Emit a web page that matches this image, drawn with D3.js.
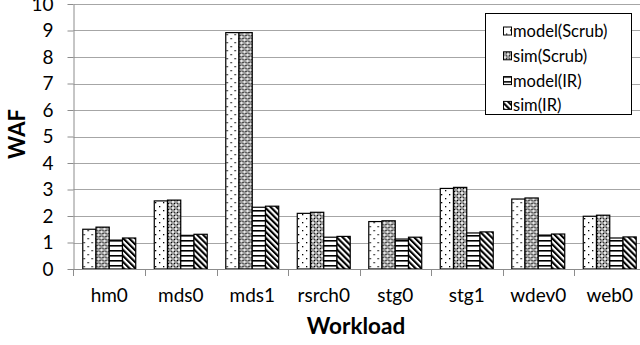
<!DOCTYPE html>
<html>
<head>
<meta charset="utf-8">
<script src="https://cdn.jsdelivr.net/npm/d3@7"></script>
<style>
  html, body { margin: 0; padding: 0; background: #fff; }
  svg { display: block; font-family: Lato, "Open Sans", sans-serif; }
</style>
</head>
<body>
<svg id="chart" width="640" height="345"></svg>
<script>
const categories = ["hm0", "mds0", "mds1", "rsrch0", "stg0", "stg1", "wdev0", "web0"];
const seriesNames = ["model(Scrub)", "sim(Scrub)", "model(IR)", "sim(IR)"];
const modelScrub = [1.50, 2.57, 8.92, 2.10, 1.79, 3.04, 2.64, 1.99];
const simScrub   = [1.58, 2.60, 8.92, 2.14, 1.82, 3.08, 2.68, 2.03];
const modelIR    = [1.09, 1.27, 2.33, 1.20, 1.13, 1.36, 1.28, 1.17];
const simIR      = [1.17, 1.31, 2.37, 1.23, 1.20, 1.40, 1.32, 1.21];
const yTicks = [0, 1, 2, 3, 4, 5, 6, 7, 8, 9, 10];
const seriesValues = [modelScrub, simScrub, modelIR, simIR];

(function () {
const svg = d3.select("#chart");
const mLeft = 73.5, mRight = 645.5, mTop = 4, mBottom = 269;

const x0 = d3.scaleBand().domain(categories).range([mLeft, mRight]).paddingInner(0).paddingOuter(0);
const x1 = d3.scaleBand().domain(seriesNames).range([0, x0.bandwidth()]).paddingInner(0).paddingOuter(0.7);
const y = d3.scaleLinear().domain([0, 10]).range([mBottom, mTop]);

// patterns
const defs = svg.append("defs");
const p0 = defs.append("pattern").attr("id", "pat0").attr("patternUnits", "userSpaceOnUse")
  .attr("width", 8).attr("height", 8);
p0.append("rect").attr("width", 8).attr("height", 8).attr("fill", "#fff");
p0.append("rect").attr("x", 2).attr("y", 2).attr("width", 1.3).attr("height", 1.3).attr("fill", "#000");
p0.append("rect").attr("x", 6).attr("y", 6).attr("width", 1.3).attr("height", 1.3).attr("fill", "#000");

const p1 = defs.append("pattern").attr("id", "pat1").attr("patternUnits", "userSpaceOnUse")
  .attr("width", 6).attr("height", 6);
p1.append("rect").attr("width", 6).attr("height", 6).attr("fill", "#9a9a9a");
p1.append("rect").attr("x", 0).attr("y", 0).attr("width", 2).attr("height", 2).attr("fill", "#e8e8e8");
p1.append("rect").attr("x", 3).attr("y", 3).attr("width", 2).attr("height", 2).attr("fill", "#e8e8e8");
p1.append("rect").attr("x", 2).attr("y", 2).attr("width", 1).attr("height", 1).attr("fill", "#000");
p1.append("rect").attr("x", 5).attr("y", 5).attr("width", 1).attr("height", 1).attr("fill", "#000");
p1.append("rect").attr("x", 5).attr("y", 2).attr("width", 1).attr("height", 1).attr("fill", "#333");
p1.append("rect").attr("x", 2).attr("y", 5).attr("width", 1).attr("height", 1).attr("fill", "#333");

const p2 = defs.append("pattern").attr("id", "pat2").attr("patternUnits", "userSpaceOnUse")
  .attr("width", 5).attr("height", 5);
p2.append("rect").attr("width", 5).attr("height", 5).attr("fill", "#fff");
p2.append("rect").attr("x", 0).attr("y", 0).attr("width", 5).attr("height", 1.6).attr("fill", "#000");

const p3 = defs.append("pattern").attr("id", "pat3").attr("patternUnits", "userSpaceOnUse")
  .attr("width", 4.2).attr("height", 4.2).attr("patternTransform", "rotate(-45)");
p3.append("rect").attr("width", 4.2).attr("height", 4.2).attr("fill", "#fff");
p3.append("rect").attr("x", 0).attr("y", 0).attr("width", 2.1).attr("height", 4.2).attr("fill", "#000");

const fills = ["url(#pat0)", "url(#pat1)", "url(#pat2)", "url(#pat3)"];

// gridlines
svg.append("g").selectAll("line").data(yTicks.slice(1)).join("line")
  .attr("x1", mLeft).attr("x2", 640)
  .attr("y1", d => Math.round(y(d)) + 0.5).attr("y2", d => Math.round(y(d)) + 0.5)
  .attr("stroke", "#a6a6a6").attr("stroke-width", 1.1);

// y axis
const yAxis = d3.axisLeft(y).tickValues(yTicks).tickSize(6).tickPadding(14).tickSizeOuter(0);
const gy = svg.append("g").attr("transform", `translate(${mLeft},0)`).call(yAxis);
gy.select(".domain").attr("stroke", "#8c8c8c");
gy.selectAll(".tick line").attr("stroke", "#8c8c8c");
gy.selectAll(".tick text").attr("font-size", 19).attr("fill", "#000")
  .attr("font-family", "Lato, sans-serif");

// bars
const groups = svg.append("g").selectAll("g").data(categories).join("g")
  .attr("transform", d => `translate(${x0(d)},0)`);
groups.selectAll("rect").data((c, i) => seriesNames.map((s, k) => ({s, k, v: seriesValues[k][i]})))
  .join("rect")
  .attr("x", d => x1(d.s))
  .attr("y", d => y(d.v))
  .attr("width", x1.bandwidth())
  .attr("height", d => y(0) - y(d.v))
  .attr("fill", d => fills[d.k])
  .attr("stroke", "#000").attr("stroke-width", 1.2);

// x axis
const xAxis = d3.axisBottom(x0).tickSize(0).tickPadding(20);
const gx = svg.append("g").attr("transform", `translate(0,${mBottom})`).call(xAxis);
gx.select(".domain").attr("stroke", "#8c8c8c");
gx.selectAll(".tick text").attr("font-size", 19).attr("fill", "#000").attr("font-family", "Lato, sans-serif");
// category separators
svg.append("g").selectAll("line").data(categories.slice(1)).join("line")
  .attr("x1", d => Math.round(x0(d)) + 0.5).attr("x2", d => Math.round(x0(d)) + 0.5)
  .attr("y1", mBottom).attr("y2", mBottom + 7)
  .attr("stroke", "#8c8c8c");
svg.append("line").attr("x1", mLeft).attr("x2", mLeft).attr("y1", mBottom).attr("y2", mBottom + 7).attr("stroke", "#8c8c8c");

// axis titles
svg.append("text").attr("transform", "translate(25,134) rotate(-90)")
  .attr("text-anchor", "middle").attr("font-weight", "bold").attr("font-size", 22).text("WAF");
svg.append("text").attr("x", 356).attr("y", 334)
  .attr("text-anchor", "middle").attr("font-weight", "bold").attr("font-size", 22.5).text("Workload");

// legend
const lg = svg.append("g");
lg.append("rect").attr("x", 485.5).attr("y", 13.5).attr("width", 146).attr("height", 101)
  .attr("fill", "#fff").attr("stroke", "#000").attr("stroke-width", 1);
const items = lg.selectAll("g").data(seriesNames).join("g")
  .attr("transform", (d, i) => `translate(0,${31.5 + i * 24.8})`);
items.append("rect").attr("x", 503.5).attr("y", -4.5).attr("width", 8).attr("height", 8)
  .attr("fill", (d, i) => fills[i]).attr("stroke", "#000").attr("stroke-width", 1);
items.append("text").attr("x", 513).attr("y", 5.5).attr("font-size", 16.5).text(d => d);
})();
</script>
</body>
</html>
